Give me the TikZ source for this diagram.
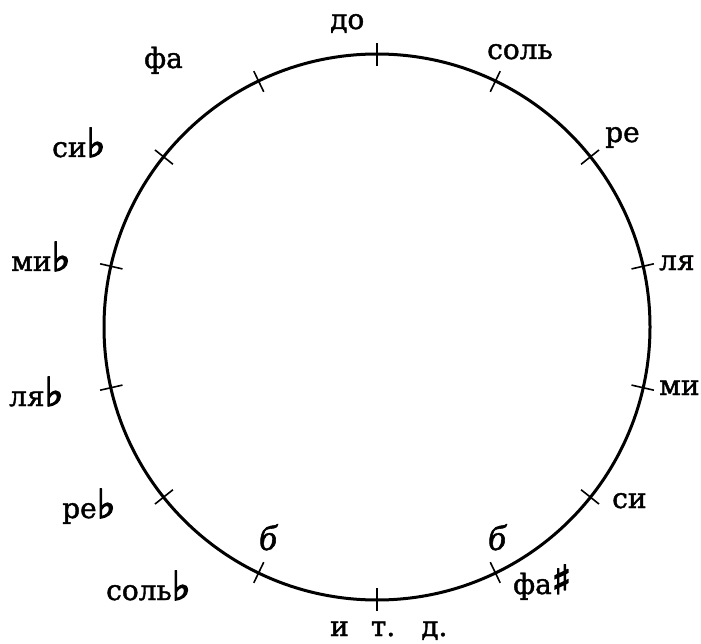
\documentclass[tikz,border=0pt]{standalone}
\usepackage{fontspec}
\setmainfont[FakeBold=1.5]{DejaVu Serif}
\newfontfamily\symf[FakeBold=3.5]{DejaVu Sans}
\newfontfamily\handf[FakeBold=1.5]{Liberation Serif}
\usetikzlibrary{calc}
\newcommand{\fl}{{\fontsize{40}{40}\selectfont\symf\bfseries ♭}}
\newcommand{\shp}{{\fontsize{40}{40}\selectfont\symf\bfseries ♯}}
\begin{document}
\begin{tikzpicture}[x=1pt,y=-1pt,
  lbl/.style={font=\fontsize{28}{28}\selectfont, inner sep=0pt, anchor=base west},
  hand/.style={font=\fontsize{36}{36}\selectfont\handf\itshape, inner sep=0pt, anchor=base},
  tickmark/.style={line width=1.6pt},
  ring/.style={line width=3pt}]
\useasboundingbox (0,0) rectangle (701,644);
\coordinate (C) at (377,327);
\draw[ring] (C) circle[radius=273];
\foreach \k in {0,...,13}{
  \coordinate (ti\k) at ($(C)+({\k*360/14-90}:261)$);
  \coordinate (to\k) at ($(C)+({\k*360/14-90}:284)$);
  \draw[tickmark] (ti\k) -- (to\k);
}
\node[lbl] (do)    at (330,29)  {до};
\node[lbl] (sol)   at (487,59)  {соль};
\node[lbl] (re)    at (605,142) {ре};
\node[lbl] (lya)   at (659,270) {ля};
\node[lbl] (mi)    at (659,395) {ми};
\node[lbl] (si)    at (612,508) {си};
\node[lbl] (fas)   at (513,594) {фа\shp};
\node[lbl] (itd)   at (330,636) {и\hspace{22pt}т.\hspace{26pt}д.};
\node[lbl] (solb)  at (106,600) {соль\fl};
\node[lbl] (reb)   at (62,518)  {ре\fl};
\node[lbl] (lyab)  at (9,406)   {ля\fl};
\node[lbl] (mib)   at (11,271)  {ми\fl};
\node[lbl] (sib)   at (52,157)  {си\fl};
\node[lbl] (fa)    at (144,68)  {фа};
\node[hand] (b1) at (268,550) {б};
\node[hand] (b2) at (497,550) {б};
\end{tikzpicture}
\end{document}
